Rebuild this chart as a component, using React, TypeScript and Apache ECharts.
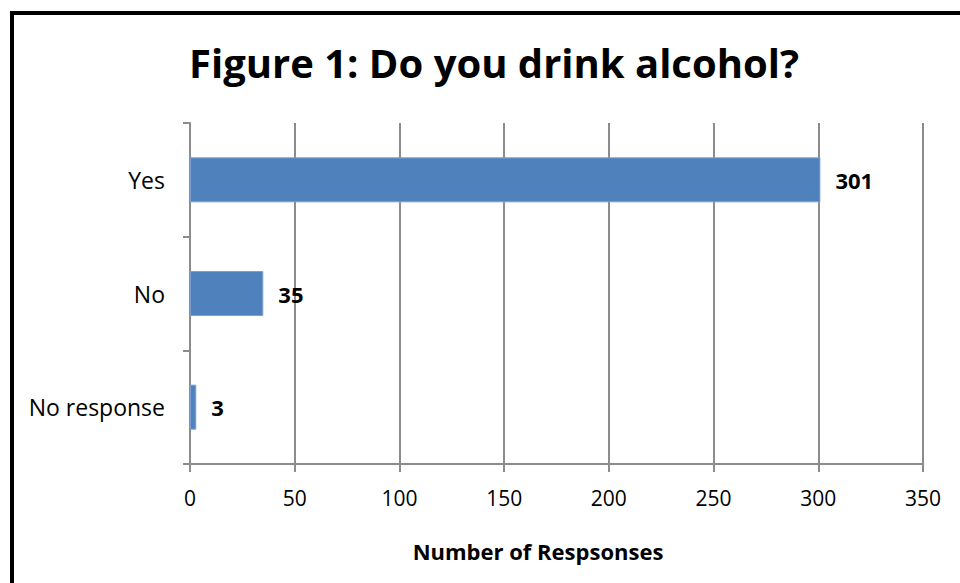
import React, { useEffect, useRef } from "react";
import * as echarts from "echarts";

const categories = ["Yes", "No", "No response"];
const values = [301, 35, 3];
const titleText = "Figure 1: Do you drink alcohol?";
const xAxisName = "Number of Respsonses";

export default function App() {
  const ref = useRef<HTMLDivElement>(null);
  useEffect(() => {
    document.body.style.margin = "0";
    const chart = echarts.init(ref.current!, null, { renderer: "svg" });
    const font = "'Open Sans', sans-serif";
    chart.setOption({
      animation: false,
      backgroundColor: "#ffffff",
      title: {
        text: titleText,
        left: 489,
        top: 37,
        textAlign: "center",
        textStyle: { fontFamily: font, fontWeight: "bold", fontSize: 40, color: "#000" },
      },
      graphic: [
        {
          type: "rect",
          shape: { x: 12, y: 13, width: 1100, height: 900 },
          style: { fill: "none", stroke: "#000", lineWidth: 4 },
          silent: true,
        },
      ],
      grid: { left: 190, right: 37, top: 123, bottom: 119 },
      xAxis: {
        type: "value",
        min: 0,
        max: 350,
        interval: 50,
        name: xAxisName,
        nameLocation: "middle",
        nameGap: 76,
        nameTextStyle: {
          fontFamily: font,
          fontWeight: "bold",
          fontSize: 22,
          color: "#000",
          padding: [0, 37, 0, 0],
        },
        axisLine: { show: true, lineStyle: { color: "#8c8c8c", width: 2 } },
        axisTick: { show: true, length: 8, lineStyle: { color: "#8c8c8c", width: 2 } },
        axisLabel: { fontFamily: font, fontSize: 21, color: "#000", margin: 23 },
        splitLine: { show: true, lineStyle: { color: "#8c8c8c", width: 2 } },
      },
      yAxis: {
        type: "category",
        data: categories,
        inverse: true,
        axisLine: { show: true, lineStyle: { color: "#8c8c8c", width: 2 } },
        axisTick: { show: true, length: 7, lineStyle: { color: "#8c8c8c", width: 2 } },
        axisLabel: { fontFamily: font, fontSize: 23, color: "#000", margin: 25 },
      },
      series: [
        {
          type: "bar",
          data: values,
          barWidth: 45,
          itemStyle: { color: "#4F81BD", borderColor: "#7da0cf", borderWidth: 1 },
          label: {
            show: true,
            position: "right",
            distance: 15,
            fontFamily: font,
            fontWeight: "bold",
            fontSize: 22,
            color: "#000",
          },
        },
      ],
    });
    return () => chart.dispose();
  }, []);
  return <div ref={ref} style={{ width: 960, height: 583 }} />;
}
